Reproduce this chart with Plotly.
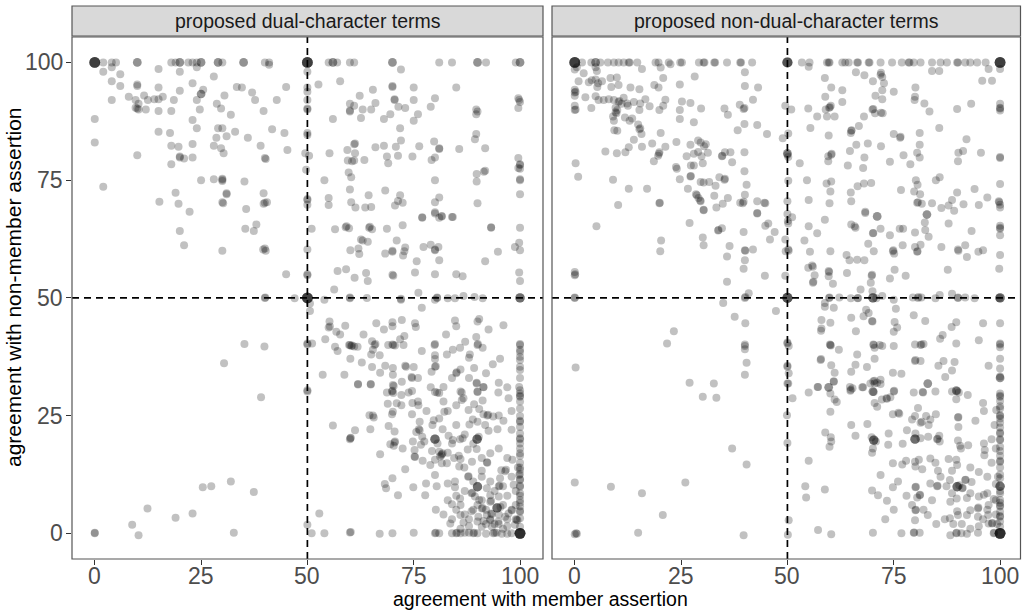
import plotly.graph_objects as go
from collections import Counter

# ---------------- data (agreement with member assertion, agreement with non-member assertion)
panel_titles = ["proposed dual-character terms", "proposed non-dual-character terms"]
tick_values = [0, 25, 50, 75, 100]
tick_labels = ["0", "25", "50", "75", "100"]
x_title = "agreement with member assertion"
y_title = "agreement with non-member assertion"

dual_points = [
    (0,100),(0,100),(0,100),(0,100),(0,100),(2,100),(4,100),(5,100),(10,100),(10,100),(18,100),(19,100),(20,100),(20,100),
    (22,100),(23,100),(24,100),(25,100),(25,100),(29,100),(29,100),(30,100),(35,100),(35,100),(40,100),(41,100),
    (50,100),(50,100),(50,100),(50,100),(50,100),(55,100),(56,100),(56,100),(57,100),(60,100),(61,100),(70,100),(70,100),
    (81,100),(84,100),(90,100),(90,100),(92,100),(99,100),(100,100),(100,100),
    (72,98.5),(2,98),(4,99),(6,97.5),(15,98.6),(20,98),(24,99),(28,97),(41,99.5),(50,98),
    (4,96),(6,95),(10,95),(10,95.3),(15,94.7),(20,94),(23,95.6),(25.5,94.2),(25,93.3),(25,93.3),(30.5,93),(33.4,94.8),
    (34.6,94.7),(37,93.6),(45,94.8),(50,93.8),(50,94.7),(52.6,95.3),(57.7,96),(65.4,94.2),(70,94.8),(70,95),(75,94.7),(85,94.7),
    (4,92),(8,92.7),(9.6,92),(10.3,91.2),(11.6,93),(12.5,92),(14,92.2),(15,92.2),(16,92.7),(9.6,90.4),(10,90.2),(10.3,90),
    (12,90),(15,89.7),(18,89.7),(18.6,92),(24,92),(24.7,90),(28.7,91.2),(29.7,90.2),(32,88.9),(37.7,92),(39.7,89.7),(42.8,92),
    (50,92),(50,90),(50,90.2),
    (56,88),(60,91.2),(60,89.6),(60,89.8),(61,90.8),(62.3,92.9),(63,90),(62.6,88.2),(65,90),(66,91.4),(68,88),(69.5,89),
    (70.5,92.2),(70.5,92),(71.4,90.6),(73,90.3),(75,92),(76,89),(75,87.6),(79,90.6),(80,92.4),
    (89.7,90),(90,89.6),(89.7,89),(99.6,92.4),(99.8,92),(100,91.6),(99.6,90.3),
    (0,88),(0,83),
    (15,85.3),(17.7,85),(23,87.8),(24,86),(29,86),(30,86),(28.6,84),(31,84.3),(33,85.3),(36,84),(41.7,85.8),(44.6,85),(50,85),(50,84.6),
    (71.8,86),(72,83.4),(79.8,83.2),(81,81.8),(81,81.6),(85.7,81.6),(89.7,84.8),(89.4,83.7),(91.8,81.8),
    (61.2,82.8),(61,82.6),(59.4,81.4),(61.2,80.7),(59.5,79.2),(60.5,79),(61,79.2),(63.4,79.3),(66,82),(68,82.3),(70.8,82.1),
    (68.7,80),(69,78.6),(71.3,80.2),(74.7,80),(76.3,82.2),(79.2,79.3),(80,79.8),
    (18,82.3),(19.7,82.1),(23,82.7),(28,82.3),(29.7,81.8),(30.3,80.7),(39,82.3),(45.3,81.4),(10,80.3),(20,79.8),(20,80),(21,79.6),
    (23,79.8),(18,78.4),(40,79.7),(40.2,79.5),(49.5,80.7),(50.4,80.2),(55.2,80.7),
    (59.7,76.6),(60.3,75.6),(54,75),(49.7,77.2),
    (99.6,79.7),(100,78.4),(100,78.2),(99.6,77.6),(100,77.4),(100,75.2),(100,75),(100,72),(89.8,76.3),(91.8,77),(91.5,76.8),(89.8,74.7),
    (2,73.6),
    (25,75),(28,75.2),(30,75.1),(30,75.3),(30,74.8),(35.2,74.7),(19,72.3),(15.2,70.4),(19.7,70),(22.3,68.3),(31,72),(31,72.2),
    (30,70.3),(30.2,70.1),(35.6,68.9),(39.7,72.2),(39.7,70),(40,70.2),(40.5,70.3),
    (50,71),(50,70.8),(50,69.8),(55,71.2),(55,69.7),(60,73),(60.3,70.3),(61.3,69.2),(63.6,69.2),(65,69.3),(64.4,71.8),(68.3,72.8),
    (71.8,71.8),(71.3,70.6),(72.4,70.2),(70.6,69.6),(80,75),(81,71.3),(80,70.3),(80,68.2),(81.6,67.4),(84,67.2),(77,67.1),(90,70.1),
    (20,64.2),(38,65.6),(35.4,64.7),(37.4,64.2),(21,61.2),(30,60),(39.6,60.3),(40,60.5),(40.2,60),(45,55),(50,60.3),(50,54.8),(50,55),(51,64.7),
    (56.5,64.6),(59,65),(59.2,65.2),(59.8,64.8),(64.5,64.9),(64.7,65.1),(65.2,64.6),(68.7,64.7),(72.4,65.4),(77,67),(80,67.9),(81,67),
    (81.6,67.3),(84.2,67.2),(93.2,64.9),(93.2,65),(100,64.9),
    (62.6,62.4),(63,62.2),(64.2,61.9),(71,62.2),(60.1,60.1),(62,60.5),(62.2,59.3),(68.3,59.4),(70,60),(70,59.8),(72.5,59),(73,60.7),
    (72.8,59.9),(75.7,57.8),(77.3,60.8),(79,61.3),(80,60.1),(80,60.3),(80.8,60.8),(81,58),(91.8,57.8),(94.8,59.8),(98.8,60.8),(99.8,61.7),(100,60.1),
    (57.1,55.7),(59.1,56.1),(61.1,54.3),(63.8,55.3),(64.2,53.6),(70,54.9),(70.2,54.7),(75.3,55.4),(80,55),(85,55),(86.5,54.6),(99.8,55.4),(100,53.6),
    (56.3,51.8),(76.1,51.1),(76.9,47.9),
    (40,50),(40.1,50.1),(47,49.9),(50,50),(50,50),(50,50),(50,50),(50,50),(50.6,48.8),(50.6,47.2),(54,49.6),(60,49.9),(60,50.1),(64,50),
    (72,49.6),(72,49.8),(80,49.6),(80.5,50),(80.5,50.1),(83,49.9),(84.7,49.9),(86.7,50.4),(89.3,50.2),(91.2,49.9),(100,50),(100,50),(100,50),
    (55.2,45),(55,43.7),(55.3,43.9),(56.8,42.8),(57.7,42.2),(58.9,44.1),(54.2,41.2),(56.5,39.6),(57.1,38.7),(60,40),(60.3,39.8),(60.5,39.9),
    (61,39.7),(59.8,40),(61.8,39.6),(63.2,42.2),(66.2,44.6),(68,43.3),(70,44.8),(70,44),(72.2,45.3),(75.3,44.6),(75.5,43.8),(65.2,40.8),
    (65.8,40),(66,40.2),(65.4,39),(65,38),(67,37.8),(69,40),(70,40.1),(70.2,40),(70.6,39.9),(71.8,41.2),(72.8,41.9),(72.6,40),(60.1,37.1),
    (62.8,36.3),(65.2,35.3),(68.3,35.6),(70.1,35.1),(70.1,33.7),(67.1,34.1),(73,35.6),(73.2,35.4),(75,35.3),(74.5,33.2),(74.6,33),(76,33),
    (72.2,32.2),(70.1,31.5),(70.3,31.3),(61.9,31.7),(64.9,31.7),(58.7,33.7),(53.6,33.7),
    (76.9,38.7),(79.9,40),(80,40.2),(80,37.8),(80,37),(80,35.4),(80.2,35.5),(79.2,34.3),(82.8,38),(84.2,39),(85.9,39.4),(87.1,40.7),
    (82.6,42.2),(84.7,45.2),(85,44),(90,45),(90.4,45.5),(92.6,43.3),(96.1,44.2),(89.7,41.7),(90,40),(90.1,40.2),(91.2,39.4),(88,37.3),
    (88.2,38),(95.3,37.1),(93.6,35.9),(89.2,35.1),(85,34),(85.1,34.2),(86,34.8),(89.8,32),(91.4,31.1),(100,40),(100,40.2),(100,39),
    (100,36.8),(100,35.4),(100,34.7),(99.8,31.1),
    (35.2,40.2),(39.9,39.7),(30.4,36.1),(50,40.3),(50,40.1),(51.1,40.3),(50,30.4),
    (39.1,28.9),(50,30.1),
    (61.9,31.6),(64.9,31.6),(69.9,30.1),(70,30.3),(70.2,29.8),(68.7,29.9),(72.1,29.4),(73.8,29.9),(74.6,30.2),(68.9,27.5),(71,27.6),
    (72.1,27.2),(74.7,27.7),(76.1,27.2),(70.1,25.8),(69.9,25.3),(64.6,25.1),(65.4,25),(65.6,24.6),(74.6,25.3),(76.4,23.7),(80,30),
    (80.5,29.9),(81,29.8),(82,31.1),(86,30.1),(86.3,29.9),(86.7,28.7),(90,30.1),(90,30),(89.8,31.8),(91.4,31),(94.9,29.9),(97.3,28.7),
    (100,30.4),(100,29.7),(100,29),(100,29.2),(85,27.2),(86.3,28.3),(89.2,27.4),(90.4,26.4),(91.4,25.3),(92.3,25),(92.5,25.2),(93.7,24.8),
    (91.2,28.2),(87.9,26.2),(88.9,24.2),(88.1,23.1),(90,23.7),(91.8,23),(92.6,21.8),(94.7,22.1),(96.1,23.9),(100,24.9),(100,23.7),
    (100,23.9),(100,22.6),(100,21.2),(100,20.2),(100,20),(100,19.1),
    (79.7,24),(79.4,23),(81,24.4),(82.2,25.8),(81.8,22.1),(76.4,21.9),(76.2,22.1),(75.6,21.5),(77,20.5),(77.5,19.5),(80,20),(80,20),(80,20),
    (80.6,19.1),(83.2,20.7),(84.2,19.8),(85.9,20),(86.5,20.2),(89.9,20),(89.9,20),(89.9,20),(90.3,20.5),(89.8,17.9),(87.7,17.8),(84,19.1),
    (81.8,17),(81,17.3),(81.5,16.6),(81.6,16.8),(83,17.1),(84.5,16),(86,15.8),(85.6,16.5),(85.7,14.2),(82.8,14.9),(81.2,16.3),(79.3,17.5),
    (80,15.6),(81.6,14.9),(77.1,15.4),(78.9,14.5),(75.2,16.3),(75.3,16.2),(75.2,17.7),(73,13.6),(72.4,18),(70.5,19.3),(70.6,19.5),
    (70.3,18.6),(69.5,18.9),(70.5,21.6),(69.1,22.8),(74.8,19.5),(76.7,18.8),(67.1,16.8),(64.8,22.1),(61.2,21.9),(60.1,20.2),(60,20),
    (60.2,20.3),(56,22.9),
    (86.9,14),(88.7,15.2),(91,13.3),(92.2,15.1),(92.3,15),(95.6,13.4),(96.5,13.2),(96.7,13.5),(95.3,11.7),(100,12.6),(99.8,12.4),(100,11.3),
    (100,11.5),(100,9.9),(100,10.1),(100,8.5),(100,7.1),(100,5.7),(98.2,15.6),(98.5,10.3),(84.7,9.8),(87.8,12),(87.9,12.1),(90,9.9),(90,9.9),
    (90,9.9),(88.6,8.5),(88.8,8.6),(89.4,7.8),(90.4,7.1),(92.2,9.6),(93,8.1),(95,10),(95.2,10.1),(93,6.7),(93.2,6.9),(95,7.8),(85.9,7.4),
    (84,6.2),(86,3.9),(86.7,2.3),(83.6,2.1),(88.6,4.7),(91,5.3),(91.2,5.4),(94.6,5.4),(94.6,5.4),(94.6,5.4),(95.4,5.6),(93.2,4.2),(93.4,4.1),
    (92.2,3.9),(93,2.8),(91.4,2.6),(90.2,3.5),(91,1.4),(93.4,1.4),(94.9,2.5),(96.5,3.5),(97.3,4.2),(98.1,4.9),(98.8,1.8),(99.4,2.8),
    (99.2,2.9),(100,4.6),(100,4.8),(100,3.2),(100,1.4),
    (51,0),(54,0),(60,0.2),(60.2,0.3),(67,-0.1),(70,0),(75,0.1),(80,0),(80.2,0.1),(81,0),(84,0),(85,0),(85.2,0.1),(86,0),(87,0.1),(88,0.1),
    (89,0),(89.2,0.1),(90,0),(92,-0.1),(93.7,0),(94,0.1),(94.5,0.1),(95.7,-0.1),(97,-0.1),(98,0),(100,0),(100,0),(100,0),(100,0),(100,0),(100,0),
    (50,1.8),(52.8,4.2),
    (0,0),(0,0.1),(8.8,1.8),(10.3,-0.4),(12.4,5.3),(19,3.3),(23,4.2),(25.4,9.8),(27.4,10),(32,11),(37.4,8.8),(32.7,0.1),
    (80,12.4),(77.9,10.6),(77.7,8.1),(74.9,9.8),(71.3,8.1),(68.2,10.5),(68.5,9.6),(70,11.7),(80.2,5),(80.4,10),(83,10.6),(84.7,11),
    (85,5),(86,6),(87,4),(88,3),(89,5),(90,6),(91,7),(92,5),(93,3),(94,2),(95,4),(96,6),(97,3),(98,5),(99,3),(96,1),(97,1.5),(95,2),
    (92,2),(90,2.5),(88,1.5),(86,1),(84,3),(82,4),(83,7),(85,8),(87,9),(89,11),(91,12),(93,11),(94,9),(96,10),(97,8),(99,6),(99,9),
    (100,6.5),(100,8),(100,13.5),(100,15),(100,16.5),(100,18),(99.5,14),(98,12),(97,16),(95,18),(93,17),(91,16),(89,19),(87,21),
    (85,23),(83,26),(82,28),(78,26),(76,28),(79,31),(84,33),(88,33),(92,34),(95,32),(97,31),(98,26),(95,25),(98,22),(100,26.5),
    (100,28),(100,33),(100,37.5),(100,38.5),(100,17),(100,14),
]

nondual_points = [
    (0,100),(0,100),(0,100),(0,100),(0,100),(1.7,100),(3.9,100),(4.9,100),(4.9,100),(6,100),(7.8,100),(9.2,100),(10.3,100),(11.5,100),
    (12.7,100),(12.9,100),(14.7,100),(19,100),(19.7,100),(22.1,100),(24.8,100),(25.2,100),(29.2,100),(30.3,100),(30.5,100),(32.8,100),
    (33,100),(35.8,100),(38.9,100),(39.1,100),(41.7,100),(50,100),(50,100),(50,100),(50,100),(53.4,100),(55.2,100),(59.3,100),(59.7,100),
    (59.9,100),(62.9,100),(63.6,100),(64.4,100),(66.4,100),(66.6,100),(69.1,100),(69.3,100),(71.9,100),(74.6,100),(76.9,100),(78.5,100),
    (78.7,100),(79.7,100),(81.3,100),(84,100),(86,100),(87.5,100),(89.9,100),(90.1,100),(91.8,100),(93,100),(94.6,100),(96.6,100),
    (100,100),(100,100),(100,100),(100,100),(100,100),
    (0.5,99),(0,98.5),(2.1,97.7),(4.9,99),(5.2,98.2),(0.9,96),(3.3,95.8),(4,96.2),(4.9,96.4),(5.5,95.6),(6.4,96),(5.3,94.8),(8.4,96.7),
    (9.9,96.8),(15.8,98.6),(20.2,98.9),(22.5,99.6),(40,97.9),(55,99.1),(66.1,97.9),(68.1,97.3),(72,97.8),(72.3,96.9),(84,98.2),(85.7,98.2),
    (97.3,98.6),(100,98.6),(95.8,96.1),(98.1,96.1),
    (0,94.2),(0,93.6),(0.2,93.8),(0,92.9),(2.5,92.6),(4.9,92.8),(5.6,92),(6.8,92),(8,92.2),(9.2,92),(10.3,91.6),(10.5,91.8),(11.5,92.5),
    (12.3,91.3),(8.6,94.8),(10.3,95.2),(13.1,94.7),(15.2,94.3),(18.7,95.2),(19.7,94.7),(20.8,96.7),(24.7,95.3),(28.2,97),(40,95),(43.1,94.7),
    (13.9,91.6),(15.4,91.3),(16.6,92.2),(21.3,92.1),(25.2,91.7),(27.2,91.4),(41.9,92.1),(38.8,91),(39.7,90.1),(39.9,90.3),
    (0,90.8),(0,89.9),(0.2,90),(3.9,90.3),(9.6,90.4),(9.6,89.4),(9.8,89.2),(10,89.9),(11,91.2),(9,88.5),(9.2,87.6),(11.8,88.3),(12.9,87.6),
    (13.5,88.1),(14.9,86.8),(15.2,85.8),(15.4,86),(15.7,84.8),(9.3,85.6),(10,85.5),(12.5,90.8),(15.2,89.9),(17.6,90.7),(19.9,89.9),
    (20.8,90.8),(24.7,89.9),(24.7,88),(29.7,90.2),(28,87.3),(35.2,90.2),(36,88.9),(38.3,85.6),(39.9,86.9),(42.9,86.7),(45.2,84.8),
    (13.9,83.6),(12.7,82),(15.8,82.1),(18.2,82.8),(20.2,85),(21.3,82.1),(19.8,80.6),(19.9,80.9),(19.6,80.2),(18.6,79),(23.9,83.1),(27.2,82.5),
    (29,83.4),(29.6,83),(30.4,82.2),(30.8,82.6),(26.3,80.1),(28,80.6),(29,81),(29.8,80.1),(31.3,80.8),(30.1,78.6),(27.3,78.1),(28,78.1),
    (23.8,77.8),(24,77.4),(24.7,75.2),(27.2,75.8),(27.3,75.9),(29.6,74.6),(30.3,74.5),(31.6,74.6),(33.1,73.8),(34,75.6),(35.2,75.1),
    (35.3,75.3),(7.2,81.1),(9.9,80.7),(11.9,80.9),(0.2,78.6),(0.8,75.7),(9,75.1),(12.7,73.2),(17,73.2),(10.2,69.7),(19.9,70.1),(20,70.2),
    (26.6,73.2),(28.5,72),(28.7,71.8),(29.1,71.2),(29.5,70.7),(29.6,70.5),(30.3,68.7),(32.8,71.7),(33.3,69.2),(34.8,70),(36,71.2),
    (38.9,70.2),(39.7,70.4),(39.5,70.1),(40,71.9),(40.4,74),(39.9,76.9),(35.3,80.9),(36.6,80.9),(34.6,80.1),(34.7,80.2),(37,78.8),
    (39.9,80.9),(42.9,70.5),(44.8,70.1),(44.6,70.2),(42.9,68),(48.9,83.9),
    (49.5,90.8),(50,80.7),(50,80.7),(50,80.4),(50.2,79.9),(50.2,84.9),(50.2,74.9),(50,70.5),(50,67.8),
    (50.9,90),(52.9,78.6),(54.6,75),(55,70.8),(54.9,90.2),(55.4,86.1),(57,88.5),(58.8,96.7),(58.9,92.7),(60.3,94.7),(59.8,90.4),(60,90.5),
    (60.2,90.8),(59,90),(59.3,88.5),(61.1,88.5),(62.9,94.1),(62.9,91.6),(65,85.5),(65.1,85.6),(64.9,85),(66.8,86.5),(66.2,82.5),(68.9,82.8),
    (68.1,79.8),(64.7,81.2),(64.2,78.1),(59.7,84.5),(60.3,80.4),(60.4,80.6),(59.6,80.1),(59.6,79),(60.3,74.7),(59.2,74.3),(60.1,72.6),
    (59.9,70.1),(64.9,72.4),(66.5,73.7),(68,74.3),(69.7,74.4),(65,70.5),(68.3,68.3),(71.1,67.3),(67.8,77.6),(68,88.5),(70,90),(70.2,90.1),
    (72,89.3),(72.4,89.2),(70.6,89.2),(70.1,96),(71.9,97.4),(72.7,95.6),(72.3,94.1),(70.7,92.9),(72.3,92.2),(75,93.8),(80.1,94.7),(80,92.7),
    (79.9,92),(82.2,91.3),(83.4,89.6),(89.9,90.1),(93.2,91.2),(100,91.2),(100,90.2),(100,90.4),(100,89.8),(85.7,86.1),(81.1,85),(75,84.8),
    (76.5,84),(76.6,84.2),(74.1,78.9),(77.3,80.3),(78.9,78.4),(80.5,80.8),(81.1,82.5),(81.1,79.8),(92.1,83.7),(91.3,81.2),(90.2,80.8),
    (90.1,79),(95.5,80.8),(100,79.7),(100,79.9),(72,82.2),(80.2,75),(80.6,74),(81.2,72),(79.8,72.6),(80.5,70.2),(80.7,70.3),(81.6,70),
    (84,70.1),(86.2,69.1),(87.9,69.6),(88.7,70.8),(89.9,72.4),(91.4,69.9),(94,73.1),(95,69.7),(97,71.3),(100,74.2),(99.7,70.5),(99.8,70.3),
    (100,69.8),(100,69.2),(84.9,75),(85.8,75.6),(76.7,72.9),(82.8,67.7),(89.2,68.5),
    (5.1,65.2),(27,65.9),(30.3,68.6),(33.7,64.3),(33.8,64.4),(34.6,64.8),(39.7,64),(42.9,67.9),(44.8,65.3),(45.5,65.8),(47,64),(45.9,62.4),
    (30.1,62.8),(30.3,61.2),(20.3,62.2),(20.1,59.9),(36.4,61),(35.8,58.8),(40,60.1),(40.1,60),(41.9,60.3),(40,58),(39.7,56.2),(44.7,54.7),
    (35.8,53.4),(0,55.5),(0,54.8),(0.1,55),(0,50),(0,50.1),(40,50),(40.1,50.2),(40.9,51),(34.9,48.9),(37.6,46),(40.1,44.6),(47.3,47.2),
    (23.3,42.9),(21.7,40.3),(40,39.8),(40,40.1),(40,39.1),(40.4,36.2),(40,33.7),(0.2,35.2),(27,32),(32.7,31.8),
    (50.1,66.3),(50.2,65.8),(49.5,62.4),(49.6,59.9),(50.3,60),(50.2,60.3),(49.5,54.7),(50,50),(50,50),(50,50),(50,50),(50,40.5),(50,40.3),
    (50.3,39.8),(50,35.4),(50,35.6),(50.3,34),(50.2,31.8),
    (51.1,67.1),(55,65.2),(57,63.7),(54,62.2),(55.3,59.8),(58.8,66.6),(60.1,59.9),(54.9,56.4),(55.8,56.9),(56,56.6),(56.4,54.8),(56,53.2),
    (56.1,53.4),(59.7,55.7),(59.8,55.5),(59.7,54.6),(60.7,53),(64,55.3),(63.9,59.1),(64.6,58),(66.4,58.1),(68.1,58),(65,65.6),(65.8,65.2),
    (66,64.9),(68.3,68),(71.1,67.3),(70.1,63.7),(70.2,63.8),(71.9,64.7),(69,61.5),(70.3,59.9),(69.8,54.7),(69.9,54.9),(69.6,53.2),(67.2,51.8),
    (74.1,63.3),(76.4,64.7),(77.2,64.7),(77.1,61.2),(74.8,59.9),(74.9,60.1),(75.1,59.4),(80,63.9),(80,60.8),(80.5,59.8),(80.6,59.9),(81.3,61.3),
    (82.3,66),(82.4,64.4),(83.2,63),(82.8,67.7),(87.9,65.8),(93.3,64.2),(86.2,60.8),(90.1,60.3),(90.2,60),(91.8,61.2),(92.2,58.7),(94.9,59.8),
    (96,60.1),(100,65.3),(100,64.7),(100,64.9),(100,63.3),(100,59.1),(99.8,56.2),(87.7,56),(75.2,56),(74.1,54.1),(77.8,54.7),
    (59.8,50),(59.9,50.1),(58.8,48.9),(58.8,48.1),(62.2,50.1),(64.9,49.9),(66.5,49.9),(66.6,50),(70,51.4),(70.1,50),(70.1,50),(70.1,50),
    (70.9,49.9),(72.3,50.4),(75,49.6),(79.5,50.1),(80.7,50),(80.8,50.2),(81.5,50.1),(84.8,49.9),(85.8,50.6),(88.7,50.9),(90.1,50),(90.1,50.1),
    (91.8,50.1),(94,49.9),(99.8,50),(100,50),(100,50),(100,50),(60.9,47.9),
    (68.5,47.5),(69.1,46.8),(67.9,46.1),(65,45.8),(69.9,45.1),(70,45),(75.5,47.7),(79.7,46.3),(82.4,45.1),(75.2,44.9),(75.8,43.7),(75,42.8),
    (89.7,44.8),(88.6,43.8),(96,44.6),(100,44.6),(60.1,44.7),(58,45.3),(58,43.5),(57.9,43),(66.1,42.9),(60.1,40),(60,40.1),(60.2,39.9),
    (62.1,39),(66.4,38),(70.2,40.1),(70.3,40),(70.5,39.4),(71.7,40),(72.3,39.8),(75,39.8),(70.5,37.1),(68.7,35.3),(66,35.8),(65,34.3),
    (61.1,34.1),(60.3,35.7),(57.8,36.8),(57.9,37),(80,40.1),(81.3,40),(81.5,40.1),(82,40.2),(80,36.6),(80.1,36.8),(81.3,36.6),(85.9,41.3),
    (86.5,42.1),(89.7,40.3),(95,41),(100,40.3),(100,40.1),(100,39.5),(100,37.1),(85.5,35.6),(86.7,36.6),(87.1,33.2),(88.7,34.6),(89.3,36.4),
    (97.3,35.6),(100,35),(100,33),(100,33),(100,33.3),(74.8,34.1),(76.8,33.9),(70.2,32.3),(70.5,32.4),(71.1,32),(71.9,32.6),(83,31.8),
    (60.9,32.3),(57.1,31.1),(59.7,31),(64.7,31.1),(67.6,31),
    (30.1,29),(33.3,28.8),(37,18),(40.4,14.6),(0,10.8),(8.5,9.9),(15.8,8.5),(26,10.8),(20.7,3.9),(0,-0.2),(0.3,0),(0.5,-0.1),(14.9,0.1),(39.7,-0.4),
    (50,31.8),(49.9,25.1),(50,19.2),(50.3,2.8),(50.1,-0.3),(51.2,28.7),
    (55,29.9),(57.2,31.1),(59.7,31),(60.1,29.7),(61.1,28.4),(61.6,27.9),(60.9,32.2),(60.1,25.8),(58.9,21.4),(60.3,19.5),(60.2,20.4),
    (59.9,18.4),(55,15.4),(54.2,10),(54.4,7.6),(58.8,9.3),(57.2,0.7),(60.3,-0.2),(64.8,30.3),(64.9,30.5),(65.3,30.8),(67.8,31),(70.1,30.1),
    (70.1,30.1),(70.3,30),(69.5,31.8),(70.5,31.8),(71.9,31.7),(70.5,27.7),(71.1,26.9),(72.2,28.4),(73.3,28.7),(73.4,28.6),(74.2,28.9),
    (75,30.1),(75.1,30.3),(79.7,29.9),(81.9,29.9),(81.8,30),(84.8,30.1),(83,31.8),(89.7,30.3),(89.7,30.3),(89.9,30.2),(90.3,29.9),(92.4,29.4),
    (88.7,30.1),(80.7,26.6),(89.7,28.5),(96,27.7),(96.2,26),(99.1,26.2),(100,29.7),(100,29),(100,29.2),(100,28.1),(100,24.9),(100,25.1),
    (100,24.4),(100,21.2),(100,21.4),(100,19.8),(100,20),(100,18.4),(100,15.2),(100,15.4),(100,11.7),(100,10),(100,10),(100,10),(100,8.5),
    (100,7.1),(100,5.7),(100,5.9),(100,4.6),(100,3.5),(100,3.7),(100,2.5),(100,1.4),(100,0),(100,0),(100,0),(100,0),(100,0),(100,0),
    (65,23),(66,20.7),(68.8,23.2),(69.8,20.4),(70.3,19.8),(70.3,19.8),(70.3,19.8),(70.8,19.5),(70.1,18),(69.9,17.1),(73.8,21.2),(73.7,18.8),
    (74.8,25.3),(76.1,25.6),(76.3,25.4),(77.1,19),(78.1,21.9),(79.3,24.2),(80,24.9),(80.1,21.2),(80,20),(80,20),(80,20),(81.3,20.2),
    (80.9,15.6),(81.3,23.5),(81.6,23.7),(82.6,24.9),(83.6,24.2),(83.2,23),(84.9,25.3),(83.1,20.5),(85.2,20),(85.3,20.1),(85.7,20.7),
    (85.8,19.5),(90.1,24.6),(90.2,24.7),(90.2,22.6),(94.2,23.9),(90.1,19.7),(90.8,18),(90.6,18.6),(92.5,18.7),(96.2,19.1),(96.4,17.7),
    (96.3,16.6),(98,20),(74.8,14.9),(77,14.6),(77.9,15.4),(80,15.2),(80.1,14.2),(81.7,13.6),(83.6,15.9),(84.8,15),(85.4,13.3),(87.9,15.8),
    (89.7,15.6),(89.9,14.5),(88.7,13.3),(91.8,11.3),(91.9,11.4),(93.3,10.9),(88.2,11.3),(89.9,9.9),(89.9,9.9),(89.9,9.9),(90.4,10.2),
    (91.1,9.6),(91.2,9.7),(85.2,10),(85.3,10.1),(87.4,10),(83.6,10.6),(80.1,9.8),(80.2,9.9),(81.1,8.1),(81.2,8.2),(80.5,7.6),(74.8,9.8),
    (69.9,9.1),(71.3,8.1),(73.4,6.9),(71.9,12.4),(88.7,8.5),(89.8,7.4),(88.3,6.7),(92.2,7.5),(93,8.5),(95,7.8),(96.2,8.2),(97,8.5),(98.5,7.3),
    (79.3,6),(80.1,4.9),(80.2,5),(80,2.8),(83,3.9),(88.2,3.2),(89.9,4.7),(90.1,3.9),(92.2,3.9),(93,4.9),(94.8,3.5),(94.8,5.3),(94.9,5.5),
    (97.2,3.9),(97.3,6),(97.3,2.1),(98.1,2.1),(98.2,2.2),(99.3,2),
    (70.1,0.1),(76.8,0),(79.7,0.1),(79.8,0.2),(81.1,0.1),(88.3,-0.4),(89.7,0),(89.8,0.1),(90.9,0),(92.2,-0.1),(94.8,0.1),(98.5,0),(98.6,0.1),
    (85,2),(87,3),(89,2),(91,2),(93,1),(95,1.5),(96,3),(97,5),(99,4),(99,7),(100,6.5),(100,9),(100,12.5),(100,14),(100,16.5),(100,17.5),
    (100,22.5),(100,23.5),(100,26.5),(100,27),(95,13),(93,14),(97,12),(98,15),(86,12),(84,7),(82,5),(78,8),(76,11),(75,5),(73,3),
    (99,10.5),(99.5,12),(99,18),(98.7,23),
]

# ---------------- figure geometry (pixels of 1023x611 canvas)
W, H = 1023, 611
FONT = "Liberation Sans, Arial, Helvetica, sans-serif"
TICK_SIZE = 23
panels = [
    dict(points=dual_points, xd=[72 / W, 543 / W], xr=[-5.35, 105.4], xa="x", ya="y"),
    dict(points=nondual_points, xd=[552 / W, 1020.5 / W], xr=[-5.35, 104.8], xa="x2", ya="y2"),
]
YD = [(H - 559) / H, (H - 37) / H]
YR = [-5.45, 105.4]

fig = go.Figure()
shapes, annotations = [], []

for i, p in enumerate(panels):
    xs = [pt[0] for pt in p["points"]]
    ys = [pt[1] for pt in p["points"]]
    cnt = Counter(p["points"])
    sizes = [8 + 0.7 * (min(cnt[pt], 5) - 1) for pt in p["points"]]
    fig.add_trace(go.Scatter(
        x=xs, y=ys, mode="markers", xaxis=p["xa"], yaxis=p["ya"],
        marker=dict(size=sizes, color="rgba(0,0,0,0.35)", line=dict(width=0)),
        showlegend=False, hoverinfo="x+y",
    ))
    shapes.append(dict(type="line", xref=p["xa"], yref=f"{p['ya']} domain", x0=50, x1=50, y0=0, y1=1,
                       line=dict(color="black", width=1.7, dash="7px,5px"), layer="above"))
    shapes.append(dict(type="line", xref=f"{p['xa']} domain", yref=p["ya"], x0=0, x1=1, y0=50, y1=50,
                       line=dict(color="black", width=1.7, dash="7px,5px"), layer="above"))
    shapes.append(dict(type="rect", xref=f"{p['xa']} domain", yref=f"{p['ya']} domain", x0=0, x1=1, y0=0, y1=1,
                       line=dict(color="#555555", width=1.2), fillcolor="rgba(0,0,0,0)", layer="above"))
    shapes.append(dict(type="rect", xref="paper", yref="paper", x0=p["xd"][0], x1=p["xd"][1],
                       y0=(H - 36) / H, y1=(H - 6) / H, line=dict(color="#555555", width=1.2), fillcolor="#d9d9d9"))
    annotations.append(dict(text=panel_titles[i], xref="paper", yref="paper",
                            x=(p["xd"][0] + p["xd"][1]) / 2, y=(H - 21) / H, showarrow=False,
                            xanchor="center", yanchor="middle", font=dict(family=FONT, size=19.5, color="#1a1a1a")))
    # x tick labels placed on the axis scale
    for v, lab in zip(tick_values, tick_labels):
        annotations.append(dict(text=lab, xref=p["xa"], yref="paper", x=v, y=(H - 576) / H, showarrow=False,
                                xanchor="center", yanchor="middle",
                                font=dict(family=FONT, size=TICK_SIZE, color="#4d4d4d")))

# y tick labels (left panel only) placed on the axis scale
for v, lab in zip(tick_values, tick_labels):
    annotations.append(dict(text=lab, xref="paper", yref="y", x=65 / W, y=v, showarrow=False,
                            xanchor="right", yanchor="middle",
                            font=dict(family=FONT, size=TICK_SIZE, color="#4d4d4d")))

annotations.append(dict(text=x_title, xref="paper", yref="paper", x=540 / W, y=(H - 599) / H, showarrow=False,
                        xanchor="center", yanchor="middle", font=dict(family=FONT, size=19.5, color="black")))
annotations.append(dict(text=y_title, xref="paper", yref="paper", x=13 / W, y=(H - 287) / H, showarrow=False,
                        textangle=-90, xanchor="center", yanchor="middle", font=dict(family=FONT, size=21, color="black")))

fig.update_layout(
    width=W, height=H, margin=dict(l=0, r=0, t=0, b=0), autosize=False,
    paper_bgcolor="white", plot_bgcolor="white",
    shapes=shapes, annotations=annotations,
    xaxis=dict(domain=panels[0]["xd"], range=panels[0]["xr"], anchor="y"),
    xaxis2=dict(domain=panels[1]["xd"], range=panels[1]["xr"], anchor="y2"),
    yaxis=dict(domain=YD, range=YR, anchor="x"),
    yaxis2=dict(domain=YD, range=YR, anchor="x2", ticks=""),
)
fig.update_xaxes(showgrid=False, zeroline=False, ticks="outside", ticklen=5, tickwidth=1, tickcolor="#333333",
                 tickmode="array", tickvals=tick_values, showticklabels=False)
fig.update_yaxes(showgrid=False, zeroline=False, tickwidth=1, tickcolor="#333333", ticklen=5,
                 tickmode="array", tickvals=tick_values, showticklabels=False)
fig.update_yaxes(ticks="outside", selector=dict(anchor="x"))

fig.write_html("out.html")
